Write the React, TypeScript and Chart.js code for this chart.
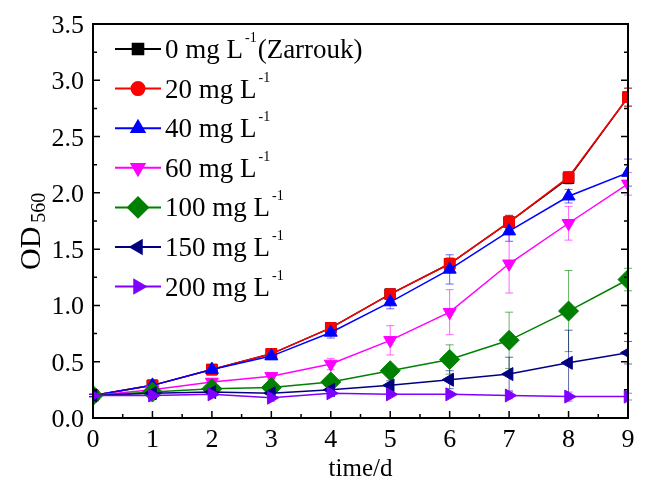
import React, { useEffect, useRef } from "react";
import { Chart, registerables } from "chart.js";
import { drawPoint } from "chart.js/helpers";

Chart.register(...registerables);

const days = [0, 1, 2, 3, 4, 5, 6, 7, 8, 9];
const xTickLabels = ["0", "1", "2", "3", "4", "5", "6", "7", "8", "9"];
const yTickValues = [0, 0.5, 1, 1.5, 2, 2.5, 3, 3.5];
const yTickLabels = ["0.0", "0.5", "1.0", "1.5", "2.0", "2.5", "3.0", "3.5"];

const legendMain = ["0 mg L", "20 mg L", "40 mg L", "60 mg L", "100 mg L", "150 mg L", "200 mg L"];
const legendSup = ["-1", "-1", "-1", "-1", "-1", "-1", "-1"];
const legendSuffix = ["(Zarrouk)", "", "", "", "", "", ""];

const od0 = [0.2, 0.29, 0.43, 0.57, 0.8, 1.1, 1.37, 1.74, 2.13, 2.85];
const od20 = [0.2, 0.29, 0.43, 0.57, 0.8, 1.1, 1.37, 1.74, 2.14, 2.85];
const od40 = [0.2, 0.29, 0.43, 0.55, 0.76, 1.03, 1.32, 1.66, 1.97, 2.18];
const od60 = [0.2, 0.25, 0.32, 0.37, 0.48, 0.69, 0.94, 1.37, 1.73, 2.08];
const od100 = [0.2, 0.23, 0.26, 0.27, 0.32, 0.42, 0.52, 0.69, 0.95, 1.23];
const od150 = [0.2, 0.22, 0.23, 0.22, 0.25, 0.29, 0.34, 0.39, 0.49, 0.58];
const od200 = [0.2, 0.2, 0.21, 0.18, 0.22, 0.21, 0.21, 0.2, 0.19, 0.19];

const err0 = [0.01, 0.02, 0.02, 0.03, 0.03, 0.04, 0.05, 0.06, 0.05, 0.08];
const err20 = [0.01, 0.02, 0.02, 0.03, 0.03, 0.04, 0.05, 0.06, 0.05, 0.08];
const err40 = [0.01, 0.02, 0.03, 0.03, 0.05, 0.06, 0.13, 0.09, 0.06, 0.12];
const err60 = [0.01, 0.02, 0.03, 0.03, 0.05, 0.13, 0.2, 0.26, 0.15, 0.1];
const err100 = [0.01, 0.02, 0.02, 0.03, 0.03, 0.05, 0.13, 0.25, 0.36, 0.1];
const err150 = [0.01, 0.02, 0.02, 0.02, 0.03, 0.04, 0.08, 0.15, 0.29, 0.1];
const err200 = [0.01, 0.02, 0.02, 0.03, 0.03, 0.02, 0.02, 0.03, 0.04, 0.03];

const seriesValues = [od0, od20, od40, od60, od100, od150, od200];
const seriesErrors = [err0, err20, err40, err60, err100, err150, err200];
const seriesColors = ["#000000", "#ff0000", "#0000ff", "#ff00ff", "#008000", "#000080", "#8000ff"];
const plotStyles = ["rect", "rect", "triangle", "triangle", "rectRot", "triangle", "triangle"];
const legendStyles = ["rect", "circle", "triangle", "triangle", "rectRot", "triangle", "triangle"];
const rotations = [0, 0, 0, 180, 0, -90, 90];
const radii = [7.5, 7.5, 7.5, 7.5, 10, 7.5, 7.5];

const SERIF = '"Liberation Serif", "Times New Roman", serif';

function App() {
  const ref = useRef<HTMLCanvasElement | null>(null);

  useEffect(() => {
    document.body.style.margin = "0";
    const canvas = ref.current;
    if (!canvas) return;

    const errorBars = {
      id: "errorBars",
      beforeDatasetsDraw(chart: any) {
        const ctx = chart.ctx;
        const xs = chart.scales.x;
        const ys = chart.scales.y;
        ctx.save();
        seriesValues.forEach((vals, i) => {
          ctx.strokeStyle = seriesColors[i];
          ctx.globalAlpha = 0.6;
          ctx.lineWidth = 1;
          vals.forEach((v, j) => {
            const e = seriesErrors[i][j];
            const px = xs.getPixelForValue(days[j]);
            const top = ys.getPixelForValue(v + e);
            const bot = ys.getPixelForValue(v - e);
            ctx.beginPath();
            ctx.moveTo(px, top);
            ctx.lineTo(px, bot);
            ctx.moveTo(px - 4, top);
            ctx.lineTo(px + 4, top);
            ctx.moveTo(px - 4, bot);
            ctx.lineTo(px + 4, bot);
            ctx.stroke();
          });
        });
        ctx.restore();
      },
    };

    const decorations = {
      id: "decorations",
      afterDraw(chart: any) {
        const ctx = chart.ctx;
        const a = chart.chartArea;
        const xs = chart.scales.x;
        const ys = chart.scales.y;
        ctx.save();
        ctx.strokeStyle = "#000";
        ctx.fillStyle = "#000";
        ctx.lineWidth = 2;
        ctx.strokeRect(a.left, a.top, a.right - a.left, a.bottom - a.top);

        // ticks
        ctx.lineWidth = 1.5;
        ctx.beginPath();
        for (let d = 0; d <= 9; d += 0.5) {
          const px = xs.getPixelForValue(d);
          const len = Number.isInteger(d) ? 7 : 4;
          ctx.moveTo(px, a.bottom);
          ctx.lineTo(px, a.bottom - len);
        }
        for (let v = 0; v <= 3.5001; v += 0.25) {
          const py = ys.getPixelForValue(v);
          const major = Math.abs(v * 2 - Math.round(v * 2)) < 1e-6;
          const len = major ? 7 : 4;
          ctx.moveTo(a.left, py);
          ctx.lineTo(a.left + len, py);
          ctx.moveTo(a.right, py);
          ctx.lineTo(a.right - len, py);
        }
        ctx.stroke();

        // tick labels
        ctx.font = `26px ${SERIF}`;
        ctx.textBaseline = "alphabetic";
        ctx.textAlign = "center";
        days.forEach((d, i) => {
          ctx.fillText(xTickLabels[i], xs.getPixelForValue(d), 447);
        });
        ctx.textAlign = "right";
        yTickValues.forEach((v, i) => {
          ctx.fillText(yTickLabels[i], a.left - 9, ys.getPixelForValue(v) + 9);
        });

        // x title
        ctx.font = `25px ${SERIF}`;
        ctx.textAlign = "center";
        ctx.fillText("time/d", (a.left + a.right) / 2, 476);

        // y title with subscript
        ctx.save();
        ctx.translate(40, 270);
        ctx.rotate(-Math.PI / 2);
        ctx.textAlign = "left";
        ctx.font = `30px ${SERIF}`;
        ctx.fillText("OD", 0, 0);
        const odw = ctx.measureText("OD").width;
        ctx.font = `20px ${SERIF}`;
        ctx.fillText("560", odw + 4, 5);
        ctx.restore();

        // legend
        legendMain.forEach((name, i) => {
          const y = 49 + i * 39.6;
          ctx.strokeStyle = seriesColors[i];
          ctx.fillStyle = seriesColors[i];
          ctx.lineWidth = 2;
          ctx.beginPath();
          ctx.moveTo(115, y);
          ctx.lineTo(161, y);
          ctx.stroke();
          drawPoint(
            ctx,
            { pointStyle: legendStyles[i], rotation: rotations[i], radius: i === 1 ? 6.5 : radii[i], borderWidth: 1 },
            138,
            y
          );
          ctx.fillStyle = "#000";
          ctx.textAlign = "left";
          ctx.font = `27px ${SERIF}`;
          let x = 165;
          ctx.fillText(name, x, y + 9);
          x += ctx.measureText(name).width + 2;
          ctx.font = `14px ${SERIF}`;
          ctx.fillText(legendSup[i], x, y - 7);
          x += ctx.measureText(legendSup[i]).width + 1;
          if (legendSuffix[i]) {
            ctx.font = `27px ${SERIF}`;
            ctx.fillText(legendSuffix[i], x, y + 9);
          }
        });
        ctx.restore();
      },
    };

    const chart = new Chart(canvas, {
      type: "line",
      data: {
        labels: days,
        datasets: seriesValues.map((vals, i) => ({
          label: legendMain[i] + legendSup[i] + legendSuffix[i],
          data: vals.map((v, j) => ({ x: days[j], y: v })),
          borderColor: seriesColors[i],
          backgroundColor: seriesColors[i],
          borderWidth: 1.5,
          pointStyle: plotStyles[i] as any,
          pointRotation: rotations[i],
          pointRadius: radii[i],
          pointBorderWidth: 1,
          order: 10 - i,
          tension: 0,
        })),
      },
      options: {
        animation: false,
        responsive: false,
        layout: { padding: { top: 24, right: 18, left: 0, bottom: 0 } },
        plugins: { legend: { display: false }, tooltip: { enabled: false } },
        scales: {
          x: {
            type: "linear",
            min: 0,
            max: 9,
            ticks: { display: false, stepSize: 1 },
            grid: { display: false, drawTicks: false },
            border: { display: false },
            afterFit: (s: any) => {
              s.height = 61;
            },
          },
          y: {
            type: "linear",
            min: 0,
            max: 3.5,
            ticks: { display: false, stepSize: 0.5 },
            grid: { display: false, drawTicks: false },
            border: { display: false },
            afterFit: (s: any) => {
              s.width = 93;
            },
          },
        },
      },
      plugins: [errorBars, decorations],
    });
    return () => chart.destroy();
  }, []);

  return (
    <div style={{ width: 646, height: 479, background: "#fff" }}>
      <canvas ref={ref} width={646} height={479} />
    </div>
  );
}

export default App;
